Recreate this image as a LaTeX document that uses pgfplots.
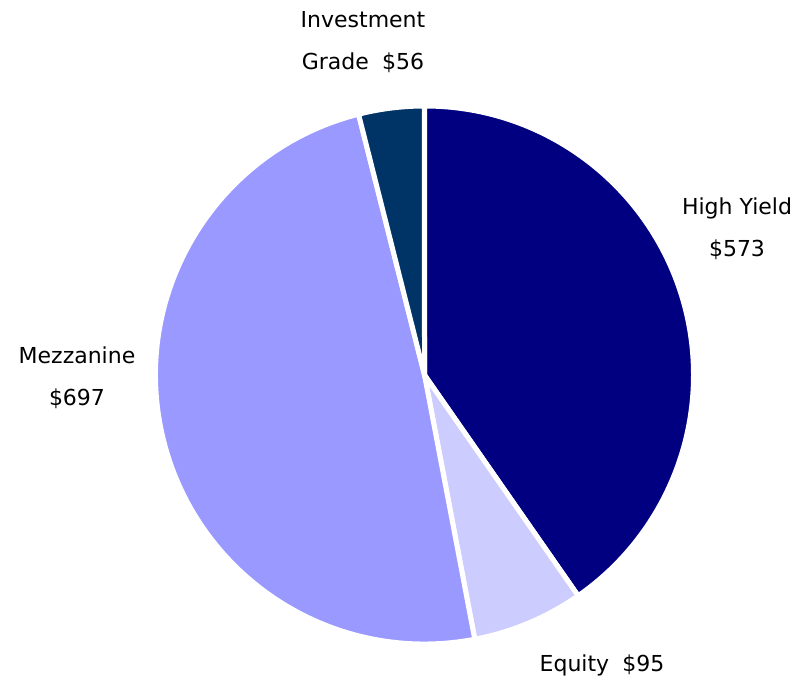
\documentclass[border=0pt]{standalone}
\usepackage{pgfplots}
\pgfplotsset{compat=1.18}
\usepackage{pgfplotstable}
\usepackage{fontspec}
\setmainfont{DejaVu Sans}
\definecolor{hy}{RGB}{0,0,128}
\definecolor{eq}{RGB}{204,204,255}
\definecolor{mz}{RGB}{153,153,255}
\definecolor{ig}{RGB}{0,51,102}
\pgfplotstableread{
name value
HighYield 573
Equity 95
Mezzanine 697
InvestmentGrade 56
}\piedata
\pgfplotstablegetelem{0}{value}\of\piedata \let\vA\pgfplotsretval
\pgfplotstablegetelem{1}{value}\of\piedata \let\vB\pgfplotsretval
\pgfplotstablegetelem{2}{value}\of\piedata \let\vC\pgfplotsretval
\pgfplotstablegetelem{3}{value}\of\piedata \let\vD\pgfplotsretval
\pgfmathsetmacro\tot{\vA+\vB+\vC+\vD}
\pgfmathsetmacro\aA{90}
\pgfmathsetmacro\aB{\aA-360*(\vA/\tot)}
\pgfmathsetmacro\aC{\aB-360*(\vB/\tot)}
\pgfmathsetmacro\aD{\aC-360*(\vC/\tot)}
\pgfmathsetmacro\aE{\aD-360*(\vD/\tot)}
\tikzset{lbl/.style={font=\fontsize{22bp}{42bp}\selectfont, align=center, text=black, inner sep=0pt}}
\begin{document}
\begin{tikzpicture}
\begin{axis}[scale only axis, width=808bp, height=681bp,
  xmin=0, xmax=808, ymin=0, ymax=681, hide axis, clip=false]
\path (axis cs:0,0) rectangle (axis cs:808,681);
\coordinate (C) at (axis cs:424.5,306);
\fill[hy, draw=white, line width=5bp] (C) -- ++(\aA:269bp) arc[start angle=\aA, end angle=\aB, radius=269bp] -- cycle;
\fill[eq, draw=white, line width=5bp] (C) -- ++(\aB:269bp) arc[start angle=\aB, end angle=\aC, radius=269bp] -- cycle;
\fill[mz, draw=white, line width=5bp] (C) -- ++(\aC:269bp) arc[start angle=\aC, end angle=\aD, radius=269bp] -- cycle;
\fill[ig, draw=white, line width=5bp] (C) -- ++(\aD:269bp) arc[start angle=\aD, end angle=\aE, radius=269bp] -- cycle;
\node[lbl] at (axis cs:363,639) {Investment\\Grade\hspace{0.6em}\$56};
\node[lbl] at (axis cs:737,452) {High Yield\\\$573};
\node[lbl] at (axis cs:77,303) {Mezzanine\\\$697};
\node[lbl] at (axis cs:602,16) {Equity\hspace{0.6em}\$95};
\end{axis}
\end{tikzpicture}
\end{document}
